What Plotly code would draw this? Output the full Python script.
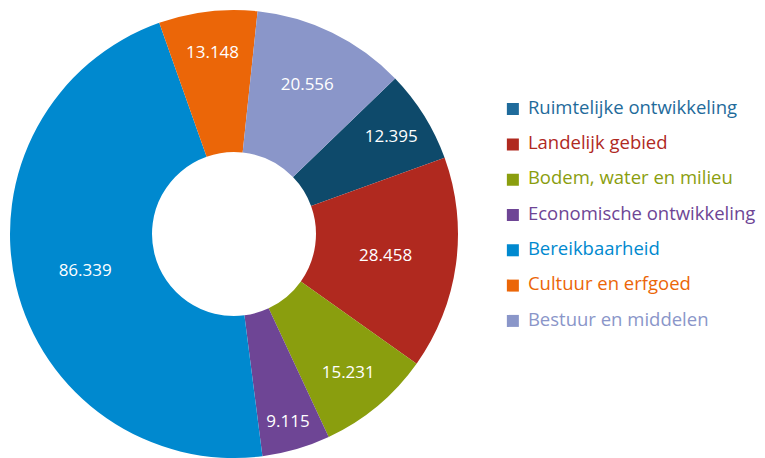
import plotly.graph_objects as go

categories = ["Ruimtelijke ontwikkeling", "Landelijk gebied", "Bodem, water en milieu",
              "Economische ontwikkeling", "Bereikbaarheid", "Cultuur en erfgoed",
              "Bestuur en middelen"]
values = [12.395, 28.458, 15.231, 9.115, 86.339, 13.148, 20.556]
value_labels = ["12.395", "28.458", "15.231", "9.115", "86.339", "13.148", "20.556"]
slice_colors = ["#0e4a6b", "#b0291f", "#8a9e0e", "#6e4595", "#0089cf", "#eb6608", "#8a96c9"]
legend_colors = ["#1f6b9b", "#b0291f", "#8a9e0e", "#6e4595", "#0089cf", "#eb6608", "#8a96c9"]

W, H = 765, 458
fig = go.Figure()
fig.add_trace(go.Pie(
    labels=categories, values=values, text=value_labels,
    texttemplate="%{text}", textinfo="text", textposition="inside",
    insidetextorientation="horizontal",
    textfont=dict(family="Open Sans", size=17, color="white"),
    marker=dict(colors=slice_colors, line=dict(width=0)),
    hole=0.366, sort=False, direction="clockwise", rotation=46,
    domain=dict(x=[9 / W, 459 / W], y=[0, 1]),
    showlegend=False, hoverinfo="label+value",
))

# legend drawn as a categorical scatter
fig.add_trace(go.Scatter(
    x=[0] * len(categories), y=categories, mode="markers",
    marker=dict(symbol="square", size=12, color=legend_colors),
    xaxis="x", yaxis="y", showlegend=False, hoverinfo="skip",
))
fig.add_trace(go.Scatter(
    x=[1.06] * len(categories), y=categories, mode="text", text=categories,
    textposition="middle right",
    textfont=dict(family="Open Sans", size=18.5, color=legend_colors),
    xaxis="x", yaxis="y", showlegend=False, hoverinfo="skip",
))

plot_h = H - 10
row_top, row_bot = 107, 323
step = (row_bot - row_top) / (len(categories) - 1)
dom_top = (H - (row_top - step / 2)) / plot_h
dom_bot = (H - (row_bot + step / 2)) / plot_h

fig.update_layout(
    width=W, height=H, margin=dict(l=0, r=0, t=10, b=0),
    paper_bgcolor="white", plot_bgcolor="rgba(0,0,0,0)",
    xaxis=dict(domain=[0.65, 1.0], range=[-1.1, 17.75], visible=False, fixedrange=True),
    yaxis=dict(domain=[dom_bot, dom_top], type="category", autorange="reversed",
               visible=False, fixedrange=True),
    showlegend=False,
)
fig.write_html("out.html", config={"displayModeBar": False},
               post_script="document.body.style.margin='0px';")
